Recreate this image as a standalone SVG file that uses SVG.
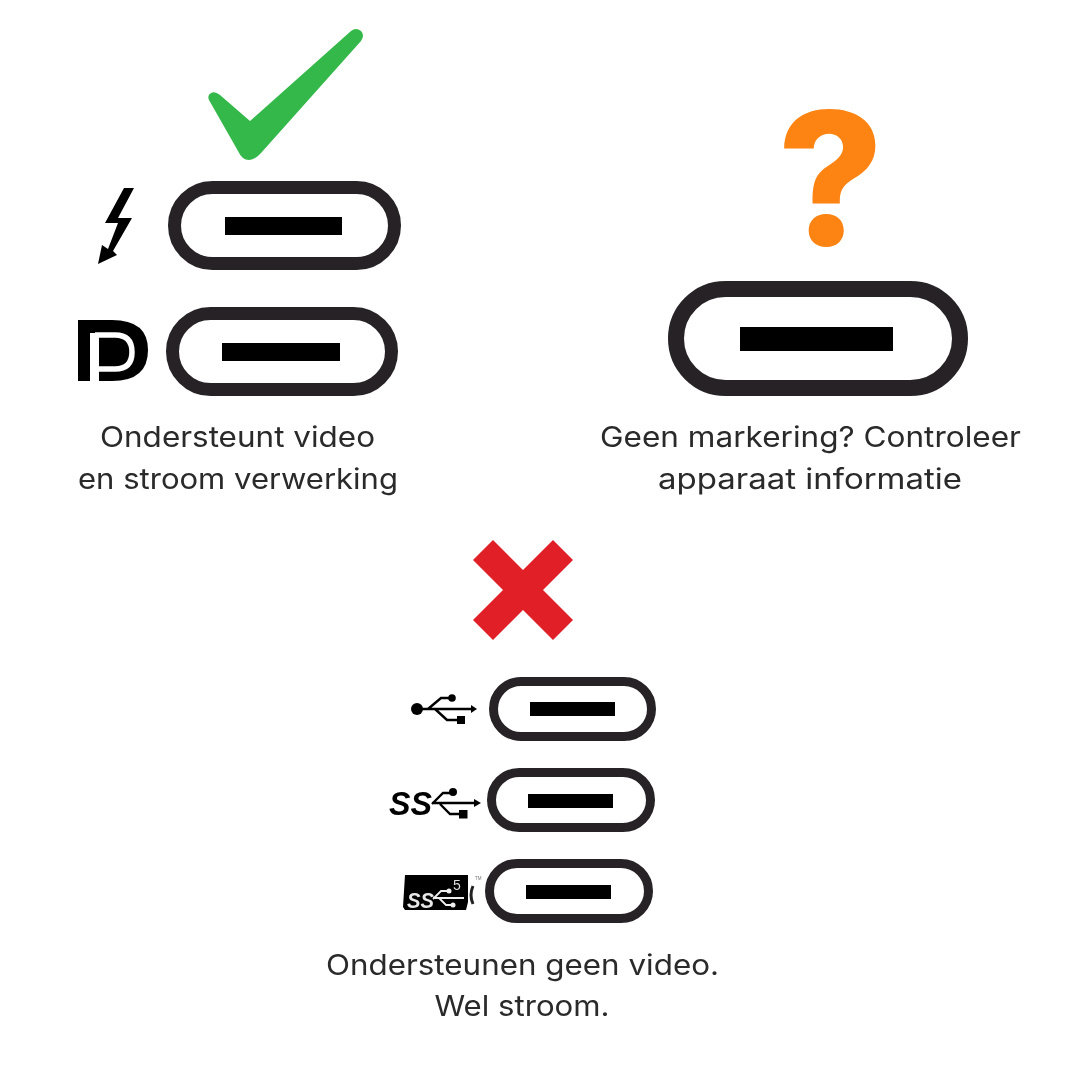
<svg xmlns="http://www.w3.org/2000/svg" width="1080" height="1080" viewBox="0 0 1080 1080">
<defs><filter id="soft" x="-30%" y="-50%" width="160%" height="200%"><feGaussianBlur stdDeviation="0.5"/></filter></defs>
<style>
.port{fill:none;stroke:#262425;filter:url(#soft)}
.t{font-family:"Inter","Liberation Sans",sans-serif;font-size:28.5px;fill:#2a2a2a;text-anchor:middle;filter:url(#soft)}
.u{fill:none;stroke:#000;stroke-width:2.4}
.w{fill:none;stroke:#eee;stroke-width:1.8}
.ic{filter:url(#soft)}
</style>
<rect width="1080" height="1080" fill="#fff"/>
<g id="check"><path d="M209 100Q207 95 211 93Q215 91 220 95L250 121L351 31Q356 27 361 31Q365 35 361 41L261 153Q255 160 249 160Q242 160 238 151Z" fill="#33b849"/></g>
<g id="question"><text x="830.500" y="245" font-family="Inter,sans-serif" font-weight="800" font-size="184" fill="#fd8412" text-anchor="middle">?</text></g>
<g id="cross"><polygon points="493,540 523,570 553,540 573,560 543,590 573,620 553,640 523,610 493,640 473,620 503,590 473,560" fill="#e01f26"/></g>
<g id="port-thunderbolt">
<path class="ic" d="M124 188H134L118 218H132L113 251L117 255L98 264L102 245L108 249L118 223H105Z" fill="#000"/>
<rect class="port" x="174.500" y="187.500" width="220" height="76" rx="38" stroke-width="13"/><rect x="225" y="217" width="117" height="18"/>
</g>
<g id="port-displayport">
<g class="ic"><path d="M78 320H112Q148 320 148 350Q148 381 112 381H78Z" fill="#000"/>
<path d="M90 333H99V381H90Z" fill="#fff"/>
<path d="M95 335H115Q132 335 132 352Q132 369 115 369H99" fill="none" stroke="#fff" stroke-width="5.500"/></g>
<rect class="port" x="172.500" y="313.500" width="219" height="76" rx="38" stroke-width="13"/><rect x="222" y="343" width="118" height="18"/>
</g>
<g id="port-unmarked">
<rect class="port" x="676" y="289" width="284" height="99" rx="49.500" stroke-width="16"/><rect x="740" y="327" width="153" height="24"/>
</g>
<g id="label-video">
<text class="t" x="237.500" y="447" textLength="275" lengthAdjust="spacingAndGlyphs">Ondersteunt video</text>
<text class="t" x="238" y="489" textLength="320" lengthAdjust="spacingAndGlyphs">en stroom verwerking</text>
</g>
<g id="label-unmarked">
<text class="t" x="810.500" y="447" textLength="421" lengthAdjust="spacingAndGlyphs">Geen markering? Controleer</text>
<text class="t" x="810" y="489" textLength="304" lengthAdjust="spacingAndGlyphs">apparaat informatie</text>
</g>
<g id="port-usb">
<g class="ic"><circle cx="417" cy="709" r="6"/>
<path class="u" d="M417 709H473M428 709L441 698H452M435 709L447 720H460"/>
<circle cx="452" cy="698" r="3.800"/><rect x="457" y="716" width="8" height="8"/><path d="M471 705L477 709L471 713Z"/></g>
<rect class="port" x="493.500" y="681.500" width="158" height="55" rx="27.500" stroke-width="9"/><rect x="530" y="702" width="85" height="14"/>
</g>
<g id="port-superspeed">
<g class="ic"><text x="389" y="815" font-family="Liberation Sans,sans-serif" font-weight="700" font-style="italic" font-size="33" textLength="43" lengthAdjust="spacingAndGlyphs" fill="#000">SS</text>
<path class="u" d="M432 803H476M432 804L443 793H453M440 804L450 814H462"/>
<circle cx="453" cy="792" r="4"/><rect x="459" y="810" width="8.500" height="8.500"/><path d="M474 799L481 803L474 807Z"/></g>
<rect class="port" x="491.500" y="772.500" width="159" height="55" rx="27.500" stroke-width="9"/><rect x="528" y="794" width="85" height="14"/>
</g>
<g id="port-superspeed5">
<g class="ic"><path d="M405 875H468V902L466 910H405L403 907Z" fill="#000"/>
<text x="407" y="908" font-family="Liberation Sans,sans-serif" font-weight="700" font-style="italic" font-size="22" textLength="27" lengthAdjust="spacingAndGlyphs" fill="#e8e8e8">SS</text>
<path class="w" d="M433 898H464M433 899L441 891H449M439 898L446 905H452"/>
<circle cx="449" cy="891" r="2.500" fill="#eee"/><circle cx="453" cy="905" r="2.500" fill="#eee"/>
<text x="453" y="890" font-family="Liberation Sans,sans-serif" font-size="14" fill="#ddd">5</text>
<path d="M473 886Q469 895 473 904" fill="none" stroke="#222" stroke-width="3"/>
<text x="475" y="880" font-family="Liberation Sans,sans-serif" font-size="4.500" fill="#777">TM</text></g>
<rect class="port" x="489.500" y="863.500" width="159" height="55" rx="27.500" stroke-width="9"/><rect x="526" y="885" width="85" height="14"/>
</g>
<g id="label-novideo">
<text class="t" x="522.500" y="975" textLength="393" lengthAdjust="spacingAndGlyphs">Ondersteunen geen video.</text>
<text class="t" x="522" y="1016" textLength="175" lengthAdjust="spacingAndGlyphs">Wel stroom.</text>
</g>
</svg>
